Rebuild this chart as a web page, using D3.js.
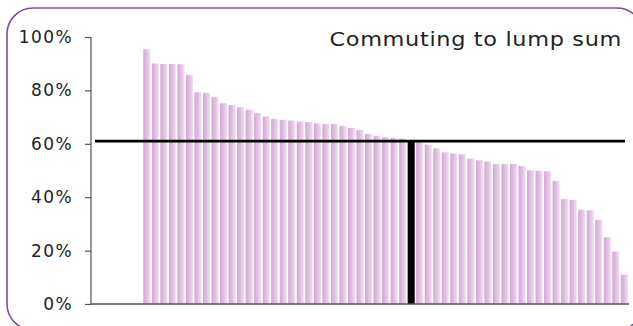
<!DOCTYPE html>
<html>
<head>
<meta charset="utf-8">
<script src="https://cdn.jsdelivr.net/npm/d3@7"></script>
<style>
  html, body { margin: 0; padding: 0; background: #fff; }
  svg { display: block; }
  text { font-family: "DejaVu Sans", sans-serif; fill: #222; }
</style>
</head>
<body>
<svg id="chart" width="633" height="326"></svg>
<script>
// ---- data ----
const title = "Commuting to lump sum";
const yTicks = [0, 0.2, 0.4, 0.6, 0.8, 1.0];
const categories = d3.range(1, 58).map(String);
const values = [
  0.954, 0.901, 0.899, 0.899, 0.898, 0.858, 0.793, 0.791, 0.776, 0.752,
  0.745, 0.737, 0.728, 0.715, 0.702, 0.693, 0.690, 0.687, 0.683, 0.681,
  0.677, 0.674, 0.674, 0.667, 0.659, 0.652, 0.637, 0.629, 0.625, 0.622,
  0.619, 0.610, 0.606, 0.597, 0.583, 0.568, 0.564, 0.561, 0.544, 0.538,
  0.534, 0.524, 0.524, 0.524, 0.517, 0.501, 0.499, 0.497, 0.461, 0.393,
  0.390, 0.353, 0.351, 0.315, 0.250, 0.196, 0.110
];
const highlight = ["32"];      // category drawn in black
const referenceLine = 0.61;    // horizontal reference level

// ---- layout ----
const svg = d3.select("#chart");
const axisX = 91, plotRight = 629;
const y = d3.scaleLinear().domain([0, 1]).range([304, 37]);
const x = d3.scaleBand().domain(categories).range([142.6, 628.6]).paddingInner(0.17).paddingOuter(0.08);

// gradient for bars
const defs = svg.append("defs");
const grad = defs.append("linearGradient").attr("id", "barGrad")
  .attr("x1", "0%").attr("x2", "100%").attr("y1", "0%").attr("y2", "0%");
grad.append("stop").attr("offset", "0%").attr("stop-color", "#d4a6d6");
grad.append("stop").attr("offset", "55%").attr("stop-color", "#e3c2e4");
grad.append("stop").attr("offset", "100%").attr("stop-color", "#f1e0f1");

// frame
svg.append("rect")
  .attr("x", 7).attr("y", 8).attr("width", 636).attr("height", 322)
  .attr("rx", 26).attr("ry", 26)
  .attr("fill", "none").attr("stroke", "#7a4fa0").attr("stroke-width", 1.6);

// bars
svg.append("g").selectAll("rect")
  .data(categories.map((c, i) => ({ c, v: values[i] })))
  .join("rect")
  .attr("x", d => x(d.c))
  .attr("y", d => highlight.includes(d.c) ? y(referenceLine) : y(d.v))
  .attr("width", x.bandwidth())
  .attr("height", d => y(0) - (highlight.includes(d.c) ? y(referenceLine) : y(d.v)))
  .attr("fill", d => highlight.includes(d.c) ? "#000" : "url(#barGrad)");

// y axis
const yAxis = d3.axisLeft(y).tickValues(yTicks).tickFormat(d3.format(".0%"))
  .tickSize(6).tickPadding(12);
const gy = svg.append("g").attr("transform", `translate(${axisX},0)`).call(yAxis);
gy.select(".domain").attr("stroke", "#555").attr("stroke-width", 1.2).attr("d", `M0,${y(1)}V${y(0)}`);
gy.selectAll(".tick line").attr("stroke", "#555").attr("stroke-width", 1.2);
gy.selectAll(".tick text").attr("font-size", 17).attr("fill", "#222")
  .attr("letter-spacing", 1.4)
  .style("font-family", '"DejaVu Sans", sans-serif');

// x axis baseline
svg.append("line")
  .attr("x1", axisX).attr("x2", plotRight)
  .attr("y1", y(0)).attr("y2", y(0))
  .attr("stroke", "#555").attr("stroke-width", 1.5);

// reference line
svg.append("line")
  .attr("x1", 95).attr("x2", 625)
  .attr("y1", y(referenceLine)).attr("y2", y(referenceLine))
  .attr("stroke", "#000").attr("stroke-width", 2.6);

// title (slightly widened to echo the original geometric face)
svg.append("text")
  .attr("transform", "translate(622,46) scale(1.12,1)")
  .attr("text-anchor", "end")
  .attr("font-size", 20)
  .attr("letter-spacing", 0.6)
  .text(title);
</script>
</body>
</html>
